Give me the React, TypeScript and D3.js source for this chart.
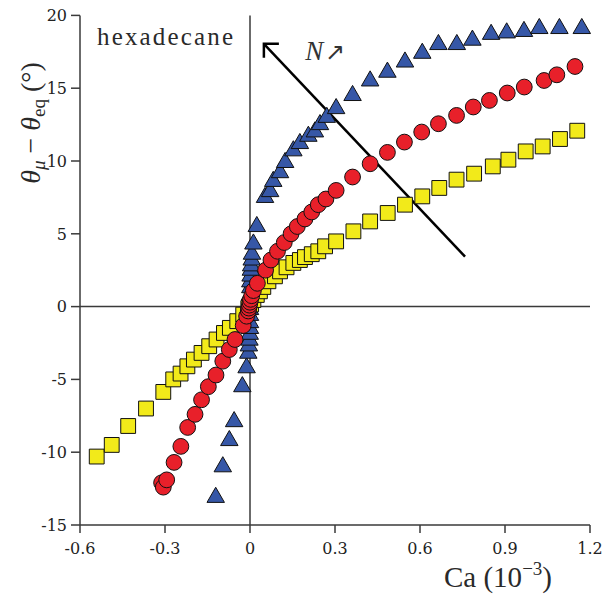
import React from 'react';
import * as d3 from 'd3';

const xTicks = [-0.6, -0.3, 0, 0.3, 0.6, 0.9, 1.2];
const xTickLabels = ['-0.6', '-0.3', '0', '0.3', '0.6', '0.9', '1.2'];
const yTicks = [-15, -10, -5, 0, 5, 10, 15, 20];
const yTickLabels = ['-15', '-10', '-5', '0', '5', '10', '15', '20'];

// series: [Ca (1e-3), theta_mu - theta_eq (deg)]
const blueTriangles: [number, number][] = [
  [-0.121, -13.1], [-0.096, -11.0], [-0.073, -9.2], [-0.056, -7.9], [-0.027, -5.5], [-0.012, -4.2],
  [-0.006, -3.2], [-0.004, -2.7], [-0.002, -2.3], [-0.001, -1.9], [0, -1.5], [0, -1.1], [0, -0.6], [0, -0.2],
  [0, 0.3], [0, 0.8], [0.001, 1.3], [0.001, 1.7], [0.002, 2.1], [0.003, 2.5], [0.004, 2.8], [0.006, 3.2],
  [0.007, 3.6], [0.012, 4.3], [0.024, 5.5], [0.053, 7.5], [0.071, 7.9], [0.082, 8.6], [0.106, 9.2],
  [0.124, 9.9], [0.153, 10.7], [0.176, 11.2], [0.206, 11.7], [0.229, 12.0], [0.247, 12.5], [0.271, 13.0],
  [0.304, 13.6], [0.362, 14.5], [0.424, 15.5], [0.485, 16.1], [0.547, 16.8], [0.608, 17.4], [0.665, 18.0],
  [0.73, 18.0], [0.785, 18.3], [0.851, 18.7], [0.906, 18.8], [0.967, 18.9], [1.021, 19.1], [1.092, 19.1],
  [1.171, 19.1],
];

const yellowSquares: [number, number][] = [
  [-0.541, -10.3], [-0.488, -9.5], [-0.43, -8.2], [-0.367, -7.0], [-0.306, -5.86], [-0.271, -5.0],
  [-0.245, -4.6], [-0.221, -4.1], [-0.198, -3.64], [-0.171, -3.18], [-0.144, -2.72], [-0.118, -2.26],
  [-0.092, -1.81], [-0.071, -1.46], [-0.045, -1.0], [-0.024, -0.55], [-0.006, -0.1],
  [0.004, 0.15], [0.012, 0.45], [0.024, 0.8], [0.035, 1.05], [0.047, 1.35], [0.065, 1.74], [0.088, 2.08],
  [0.106, 2.42], [0.129, 2.7], [0.153, 3.0], [0.176, 3.2], [0.194, 3.4], [0.218, 3.6], [0.241, 3.8],
  [0.265, 4.14], [0.304, 4.48], [0.365, 5.17], [0.424, 5.85], [0.486, 6.43], [0.547, 7.0], [0.608, 7.57],
  [0.668, 8.15], [0.729, 8.72], [0.791, 9.13], [0.857, 9.63], [0.912, 10.09], [0.973, 10.66],
  [1.033, 11.0], [1.094, 11.51], [1.155, 12.08],
];

const redCircles: [number, number][] = [
  [-0.312, -12.1], [-0.306, -12.4], [-0.294, -11.9], [-0.268, -10.7], [-0.244, -9.6], [-0.22, -8.3],
  [-0.194, -7.4], [-0.171, -6.4], [-0.147, -5.5], [-0.12, -4.7], [-0.096, -3.75], [-0.073, -2.95],
  [-0.053, -2.26], [-0.024, -1.3], [-0.012, -0.66], [-0.006, -0.3], [-0.004, -0.1], [-0.002, 0.1],
  [0, 0.3], [0.002, 0.5], [0.006, 0.75], [0.012, 1.1], [0.026, 1.6], [0.055, 2.5], [0.074, 3.2],
  [0.097, 3.8], [0.121, 4.4], [0.145, 5.0], [0.167, 5.5], [0.194, 6.02], [0.218, 6.5], [0.241, 7.0],
  [0.268, 7.39], [0.304, 7.98], [0.362, 8.9], [0.424, 9.81], [0.485, 10.59], [0.545, 11.3],
  [0.606, 11.99], [0.665, 12.56], [0.729, 13.13], [0.788, 13.71], [0.845, 14.16], [0.908, 14.67],
  [0.968, 15.08], [1.038, 15.53], [1.083, 15.92], [1.147, 16.49],
];

// annotation arrow (data coords): tail -> tip
const arrowTail: [number, number] = [0.759, 3.43];
const arrowTip: [number, number] = [0.049, 18.05];
const arrowLabelPos: [number, number] = [0.195, 16.95];

export default function App() {
  const x = d3.scaleLinear().domain([-0.6, 1.2]).range([80, 590]);
  const y = d3.scaleLinear().domain([-15, 20]).range([525, 15.4]);
  const axisColor = '#3a3a3a';
  const textColor = '#222';
  const tri = d3.symbol().type(d3.symbolTriangle).size(132)() as string;
  const sq = d3.symbol().type(d3.symbolSquare).size(220)() as string;

  const tipX = x(arrowTip[0]);
  const tipY = y(arrowTip[1]);

  return (
    <div style={{ position: 'absolute', left: 0, top: 0 }}>
      <svg width={605} height={599} style={{ display: 'block', background: '#fff' }}>
        {/* axes */}
        <line x1={x(-0.6)} x2={x(-0.6)} y1={y(-15)} y2={y(20)} stroke={axisColor} strokeWidth={1.5} />
        <line x1={x(-0.6)} x2={x(1.2)} y1={y(-15)} y2={y(-15)} stroke={axisColor} strokeWidth={1.5} />
        <line x1={x(0)} x2={x(0)} y1={y(-15)} y2={y(20)} stroke={axisColor} strokeWidth={1.5} />
        <line x1={x(-0.6)} x2={x(1.2)} y1={y(0)} y2={y(0)} stroke={axisColor} strokeWidth={1.5} />
        {yTicks.map((t, i) => (
          <g key={'yt' + i}>
            <line x1={x(-0.6) - 9} x2={x(-0.6)} y1={y(t)} y2={y(t)} stroke={axisColor} strokeWidth={1.5} />
            <text x={x(-0.6) - 13} y={y(t)} dy="0.36em" textAnchor="end" fontFamily="DejaVu Serif" fontSize={16} fill={textColor}>
              {yTickLabels[i]}
            </text>
          </g>
        ))}
        {xTicks.map((t, i) => (
          <g key={'xt' + i}>
            <line x1={x(t)} x2={x(t)} y1={y(-15)} y2={y(-15) + 8} stroke={axisColor} strokeWidth={1.5} />
            <text x={x(t)} y={y(-15) + 29} textAnchor="middle" fontFamily="DejaVu Serif" fontSize={16} fill={textColor}>
              {xTickLabels[i]}
            </text>
          </g>
        ))}

        {/* arrow annotation */}
        <line x1={x(arrowTail[0])} y1={y(arrowTail[1])} x2={tipX} y2={tipY} stroke="#000" strokeWidth={2.5} />
        <polyline points={`${tipX},${tipY + 14} ${tipX},${tipY} ${tipX + 15},${tipY}`} fill="none" stroke="#000" strokeWidth={2.5} />

        {/* series */}
        {blueTriangles.map((d, i) => (
          <path key={'b' + i} d={tri} transform={`translate(${x(d[0])},${y(d[1])})`} fill="#3657a7" stroke="#111" strokeWidth={1} />
        ))}
        {yellowSquares.map((d, i) => (
          <path key={'s' + i} d={sq} transform={`translate(${x(d[0])},${y(d[1])})`} fill="#f2ea1a" stroke="#111" strokeWidth={1} />
        ))}
        {redCircles.map((d, i) => (
          <circle key={'r' + i} cx={x(d[0])} cy={y(d[1])} r={7.9} fill="#e8202a" stroke="#111" strokeWidth={1} />
        ))}

        {/* texts */}
        <text x={97} y={45} fontFamily="Liberation Serif" fontSize={25} fill="#2a2a2a" textLength={136} lengthAdjust="spacing">
          hexadecane
        </text>
        <text x={x(arrowLabelPos[0])} y={y(arrowLabelPos[1])} fontFamily="Liberation Serif" fontSize={27} fill="#333">
          <tspan fontStyle="italic">N</tspan>
          <tspan dx={2} fontSize={24}>↗</tspan>
        </text>
        <text x={444} y={587} fontFamily="Liberation Serif" fontSize={29} fill="#2a2a2a">
          Ca (10<tspan fontSize={19} dy={-12}>−3</tspan><tspan dy={12}>)</tspan>
        </text>
        <text transform="translate(40,123) rotate(-90)" textAnchor="middle" fontFamily="Liberation Serif" fontSize={28} fill="#2a2a2a">
          <tspan fontStyle="italic">θ</tspan>
          <tspan fontStyle="italic" fontSize={19} dy={5}>μ</tspan>
          <tspan dy={-5}> − </tspan>
          <tspan fontStyle="italic">θ</tspan>
          <tspan fontSize={19} dy={5}>eq</tspan>
          <tspan dy={-5}> (°)</tspan>
        </text>
      </svg>
    </div>
  );
}
